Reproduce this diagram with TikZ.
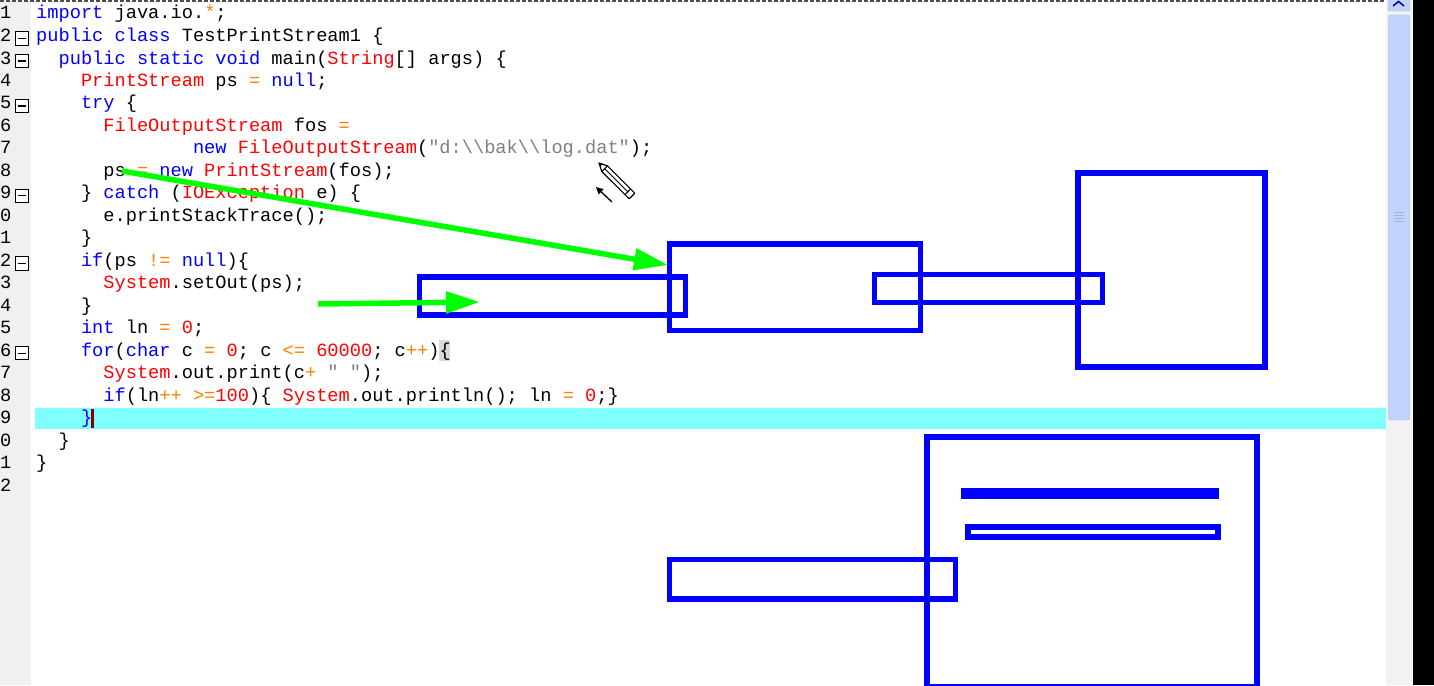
\documentclass[tikz,border=0pt]{standalone}
\usepackage{fontspec}
\setmonofont{Liberation Mono}[WordSpace={1,0,0}]
\usepackage{tikz}
\usetikzlibrary{arrows.meta}

\definecolor{caretred}{RGB}{128,0,0}
\definecolor{thumbfill}{RGB}{193,211,251}
\definecolor{thumbline}{RGB}{157,180,232}
\definecolor{linemark}{RGB}{128,255,255}

\newcommand{\kw}[1]{\textcolor{blue}{#1}}
\newcommand{\ty}[1]{\textcolor{red}{#1}}
\newcommand{\opr}[1]{\textcolor{orange}{#1}}
\newcommand{\lit}[1]{\textcolor{gray}{#1}}

\begin{document}
\begin{tikzpicture}[x = 1pt, y = -1pt,
        font = \ttfamily\fontsize{18.67pt}{22pt}\selectfont,
        codeline/.style = {anchor = base west, inner sep = 0pt},
        linenum/.style = {anchor = base west, inner sep = 0pt},
        foldbox/.style = {draw, line width = 1pt, fill = white, minimum size = 13.5pt, inner sep = 0pt},
        bluebox/.style = {draw = blue, line width = 5.5pt, inner sep = 0pt, outer sep = 0pt},
        greenarrow/.style = {green, line width = 5.5pt, -{Triangle[length = 34pt, width = 21pt]}}]
        \useasboundingbox (0,0) rectangle (1434,685);
        \clip (0,0) rectangle (1434,685);
        \fill[white] (0,0) rectangle (1434,685);
        
        % editor background
        \fill[black!6] (0,0) rectangle (31,685);
        \fill[linemark] (35,408) rectangle (1386,429);
        \fill[black!15] (439,340) rectangle (450,361);
        \fill[caretred] (91,409) rectangle (93.5,428);
        \draw[black!70, line width = 1.5pt, dash pattern = on 4pt off 2pt] (0,1) -- (1386,1);
        
        % scroll bar
        \fill[black!5] (1386,0) rectangle (1412,685);
        \fill[black] (1413,0) rectangle (1434,685);
        \draw[thumbline, fill = thumbfill, rounded corners = 2pt] (1388,-4) rectangle (1410,11);
        \draw[blue!60!black, line width = 1.5pt] (1393,6) -- (1398.5,1.5) -- (1404,6);
        \draw[thumbline, fill = thumbfill, rounded corners = 2pt] (1388.5,15) rectangle (1409.5,420);
        \draw[thumbline, line width = 1pt] (1394,212) -- (1404,212) (1394,215) -- (1404,215) (1394,218) -- (1404,218) (1394,221) -- (1404,221);
        
        % line numbers
        \node[linenum] (n1) at (0,19) {1};
        \node[linenum] (n2) at (0,41.5) {2};
        \node[linenum] (n3) at (0,64) {3};
        \node[linenum] (n4) at (0,86.4) {4};
        \node[linenum] (n5) at (0,108.9) {5};
        \node[linenum] (n6) at (0,131.4) {6};
        \node[linenum] (n7) at (0,153.9) {7};
        \node[linenum] (n8) at (0,176.4) {8};
        \node[linenum] (n9) at (0,198.8) {9};
        \node[linenum] (n10) at (0,221.3) {0};
        \node[linenum] (n11) at (0,243.8) {1};
        \node[linenum] (n12) at (0,266.3) {2};
        \node[linenum] (n13) at (0,288.8) {3};
        \node[linenum] (n14) at (0,311.2) {4};
        \node[linenum] (n15) at (0,333.7) {5};
        \node[linenum] (n16) at (0,356.2) {6};
        \node[linenum] (n17) at (0,378.7) {7};
        \node[linenum] (n18) at (0,401.2) {8};
        \node[linenum] (n19) at (0,423.6) {9};
        \node[linenum] (n20) at (0,446.1) {0};
        \node[linenum] (n21) at (0,468.6) {1};
        \node[linenum] (n22) at (0,491.1) {2};
        
        \node[foldbox] (f2) at (22,38.5) {\rule{8pt}{1.3pt}};
        \node[foldbox] (f3) at (22,61) {\rule{8pt}{1.3pt}};
        \node[foldbox] (f5) at (22,105.9) {\rule{8pt}{1.3pt}};
        \node[foldbox] (f9) at (22,195.8) {\rule{8pt}{1.3pt}};
        \node[foldbox] (f12) at (22,263.3) {\rule{8pt}{1.3pt}};
        \node[foldbox] (f16) at (22,353.2) {\rule{8pt}{1.3pt}};
        
        % code
        \node[codeline] (l1) at (36,19) {\kw{import} java.io.\opr{*};};
        \node[codeline] (l2) at (36,41.5) {\kw{public class} TestPrintStream1 \{};
        \node[codeline] (l3) at (58.4,64) {\kw{public static void} main(\ty{String}[] args) \{};
        \node[codeline] (l4) at (80.8,86.4) {\ty{PrintStream} ps \opr{=} \kw{null};};
        \node[codeline] (l5) at (80.8,108.9) {\kw{try} \{};
        \node[codeline] (l6) at (103.2,131.4) {\ty{FileOutputStream} fos \opr{=}};
        \node[codeline] (l7) at (192.8,153.9) {\kw{new} \ty{FileOutputStream}(\lit{"d:\textbackslash\textbackslash bak\textbackslash\textbackslash log.dat"});};
        \node[codeline] (l8) at (103.2,176.4) {ps \opr{=} \kw{new} \ty{PrintStream}(fos);};
        \node[codeline] (l9) at (80.8,198.8) {\} \kw{catch} (\ty{IOException} e) \{};
        \node[codeline] (l10) at (103.2,221.3) {e.printStackTrace();};
        \node[codeline] (l11) at (80.8,243.8) {\}};
        \node[codeline] (l12) at (80.8,266.3) {\kw{if}(ps \opr{!=} \kw{null})\{};
        \node[codeline] (l13) at (103.2,288.8) {\ty{System}.setOut(ps);};
        \node[codeline] (l14) at (80.8,311.2) {\}};
        \node[codeline] (l15) at (80.8,333.7) {\kw{int} ln \opr{=} \ty{0};};
        \node[codeline] (l16) at (80.8,356.2) {\kw{for}(\kw{char} c \opr{=} \ty{0}; c \opr{<=} \ty{60000}; c\opr{++})\{};
        \node[codeline] (l17) at (103.2,378.7) {\ty{System}.out.print(c\opr{+} \lit{" "});};
        \node[codeline] (l18) at (103.2,401.2) {\kw{if}(ln\opr{++} \opr{>=}\ty{100})\{ \ty{System}.out.println(); ln \opr{=} \ty{0};\}};
        \node[codeline] (l19) at (80.8,423.6) {\kw{\}}};
        \node[codeline] (l20) at (58.4,446.1) {\}};
        \node[codeline] (l21) at (36,468.6) {\}};
        
        % blue boxes
        \node[bluebox, minimum width = 251pt, minimum height = 86.5pt] (boxA) at (795,287.25) {};
        \node[bluebox, minimum width = 266pt, minimum height = 38pt] (boxB) at (552.5,296) {};
        \node[bluebox, minimum width = 228pt, minimum height = 28pt] (boxC) at (988.5,288.5) {};
        \node[bluebox, minimum width = 187pt, minimum height = 194pt] (boxD) at (1171.5,270) {};
        \node[bluebox, minimum width = 330pt, minimum height = 250pt] (boxE) at (1092,562) {};
        \node[bluebox, minimum width = 250pt, minimum height = 10pt] (barE) at (1093,532) {};
        \node[fill = blue, inner sep = 0pt, minimum width = 258pt, minimum height = 11pt] (fullE) at (1090,493.5) {};
        \node[bluebox, minimum width = 286pt, minimum height = 39.5pt] (boxF) at (812.5,579.25) {};
        
        % green arrows
        \coordinate (psmark) at (122,171);
        \coordinate (tipA) at (668,265);
        \coordinate (outmark) at (318,304);
        \coordinate (tipB) at (480,302);
        \draw[greenarrow] (psmark) -- (tipA);
        \draw[greenarrow] (outmark) -- (tipB);
        
        % mouse cursors
        \draw[line width = 1.2pt, fill = white, line join = round] (599,163) -- (607.5,165.9) -- (634.8,193.2) -- (629.2,198.8) -- (601.8,171.5) -- cycle;
        \draw[line width = 1pt] (607.5,165.9) -- (601.8,171.5);
        \draw[line width = 1pt] (630.6,189) -- (625,194.6);
        \draw[line width = 0.8pt] (604.7,168.7) -- (627.8,191.8);
        \fill (599,163) -- (602.5,164.2) -- (600.2,166.5) -- cycle;
        \draw[line width = 1.3pt, -{Triangle[length = 7pt, width = 7pt]}] (612,202) -- (596,187);
\end{tikzpicture}
\end{document}
